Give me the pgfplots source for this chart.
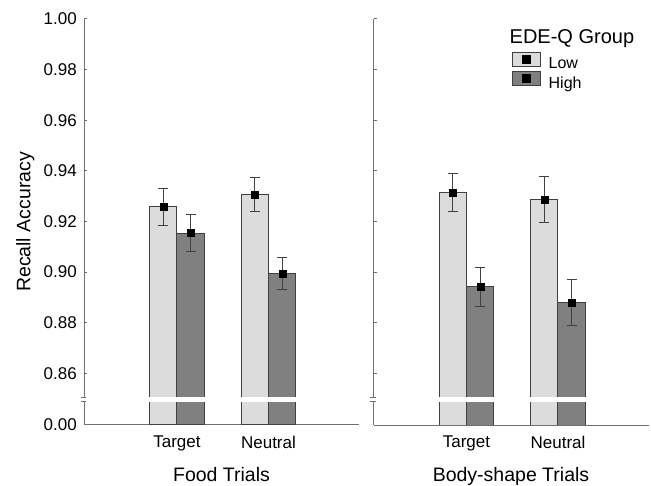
\documentclass[border=0pt]{standalone}
\usepackage{fontspec}
\setmainfont{Liberation Sans}
\usepackage{pgfplots}
\pgfplotsset{compat=1.18}
\definecolor{lowfill}{HTML}{DCDCDC}
\definecolor{highfill}{HTML}{808080}
\definecolor{bardraw}{HTML}{404040}
\definecolor{axiscol}{HTML}{707070}
\definecolor{errcol}{HTML}{404040}
\pgfplotsset{
 panel/.style={
  scale only axis, width=275bp, height=406bp,
  xmin=-1.016, xmax=1.989, ymin=0.83953, ymax=1.0,
  axis x line*=bottom, axis y line*=left,
  y axis line style={draw=none},
  x axis line style={draw=axiscol, line width=1bp},
  xtick={0,1}, xticklabels={Target,Neutral},
  xtick style={draw=none},
  ytick={0.83953,0.86,0.88,0.90,0.92,0.94,0.96,0.98,1.00},
  tick align=inside,
  major tick length=3.5bp,
  ytick style={draw=axiscol, line width=1bp},
  ticklabel style={font=\fontsize{17bp}{20bp}\selectfont},
  xticklabel style={anchor=north, inner sep=0pt, yshift=-10.7bp},
  yticklabel style={anchor=east, inner sep=0pt, xshift=-7bp},
  /pgf/number format/assume math mode=true,
  label style={font=\fontsize{19.5bp}{23bp}\selectfont},
  xlabel style={at={(axis description cs:0.5,0)}, anchor=north, yshift=-42.5bp, inner sep=0pt},
 },
 lowbar/.style={ybar, bar width=0.3, bar shift=0pt, fill=lowfill, draw=bardraw, line width=1bp,
   legend image code/.code={\draw[fill=lowfill, draw=bardraw, line width=1bp] (0bp,-1.5bp) rectangle (28bp,12.5bp); \fill[black] (10bp,1.5bp) rectangle (18bp,9.5bp);}},
 highbar/.style={ybar, bar width=0.3, bar shift=0pt, fill=highfill, draw=bardraw, line width=1bp,
   legend image code/.code={\draw[fill=highfill, draw=bardraw, line width=1bp] (0bp,-1.5bp) rectangle (28bp,12.5bp); \fill[black] (10bp,1.5bp) rectangle (18bp,9.5bp);}},
 errplot/.style={forget plot, only marks, mark=square*, mark size=3.5bp, mark options={draw=black, fill=black},
   error bars/.cd, y dir=both, y explicit,
   error bar style={draw=errcol, line width=1bp},
   error mark options={rotate=90, mark size=5bp, draw=errcol, line width=1bp}},
}
\begin{document}
\begin{tikzpicture}
\useasboundingbox (0,0) rectangle (651bp,486bp);
% Food trials
\begin{axis}[panel, at={(84bp,61bp)}, anchor=south west,
  yticklabels={0.00,0.86,0.88,0.90,0.92,0.94,0.96,0.98,1.00},
  xlabel={Food Trials}, ylabel={Recall Accuracy},
  ylabel style={at={(axis description cs:-0.2473,0.5)}, anchor=north, inner sep=0pt}]
\addplot[lowbar] coordinates {(-0.15,0.9257) (0.85,0.9307)};
\addplot[highbar] coordinates {(0.15,0.9154) (1.15,0.8994)};
\fill[white] (axis cs:-0.31,0.8504) rectangle (axis cs:0.31,0.8488);
\fill[white] (axis cs:0.69,0.8504) rectangle (axis cs:1.31,0.8488);
\addplot[errplot] coordinates {(-0.15,0.9257) +- (0,0.0074) (0.85,0.9307) +- (0,0.0067)};
\addplot[errplot] coordinates {(0.15,0.9154) +- (0,0.0074) (1.15,0.8994) +- (0,0.0065)};
\end{axis}
% Body-shape trials
\begin{axis}[panel, at={(373.5bp,61bp)}, anchor=south west,
  yticklabels={},
  xlabel={Body-shape Trials},
  legend style={at={(axis description cs:0.5025,0.9195)}, anchor=north west, draw=none, fill=none,
    inner sep=0pt, outer sep=0pt, row sep=-0.5bp, column sep=8bp,
    font=\fontsize{16bp}{19bp}\selectfont,
    nodes={inner sep=0pt, text height=11.5bp, text depth=3bp}},
  legend cell align=left]
\addplot[lowbar] coordinates {(-0.15,0.9314) (0.85,0.9286)};
\addlegendentry{Low}
\addplot[highbar] coordinates {(0.15,0.8942) (1.15,0.8880)};
\addlegendentry{High}
\fill[white] (axis cs:-0.31,0.8504) rectangle (axis cs:0.31,0.8488);
\fill[white] (axis cs:0.69,0.8504) rectangle (axis cs:1.31,0.8488);
\addplot[errplot] coordinates {(-0.15,0.9314) +- (0,0.0076) (0.85,0.9286) +- (0,0.0092)};
\addplot[errplot] coordinates {(0.15,0.8942) +- (0,0.0077) (1.15,0.8880) +- (0,0.0092)};
\end{axis}
% broken y axes
\draw[axiscol, line width=1bp] (84bp,61bp) -- (84bp,84bp) (84bp,88bp) -- (84bp,467bp);
\draw[axiscol, line width=1bp] (80.5bp,84bp) -- (86bp,84bp) (80.5bp,88bp) -- (86bp,88bp);
\draw[axiscol, line width=1bp] (373.5bp,61bp) -- (373.5bp,84bp) (373.5bp,88bp) -- (373.5bp,467bp);
\draw[axiscol, line width=1bp] (370bp,84bp) -- (375.5bp,84bp) (370bp,88bp) -- (375.5bp,88bp);
\node[anchor=base west, inner sep=0pt, font=\fontsize{20bp}{24bp}\selectfont] at (509.5bp,442.7bp) {EDE-Q Group};
\end{tikzpicture}
\end{document}
